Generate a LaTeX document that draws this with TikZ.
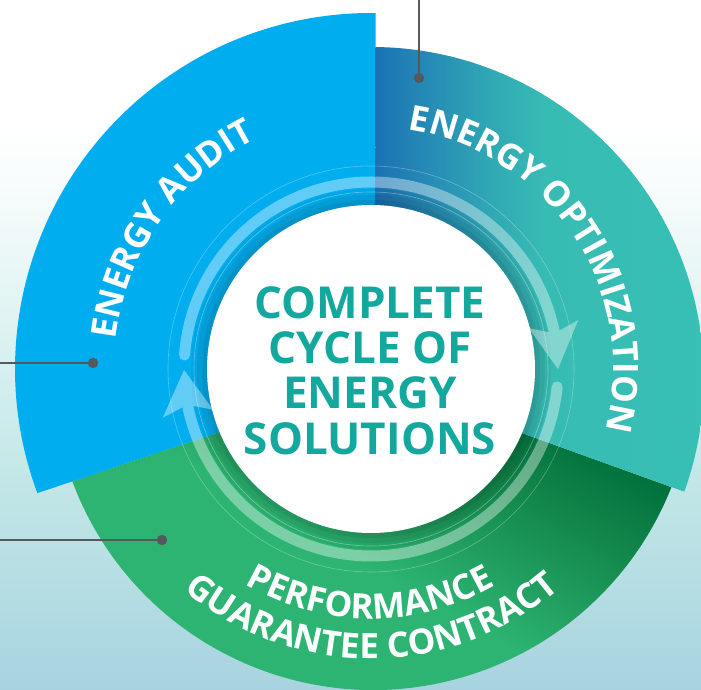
\documentclass[tikz,border=0pt]{standalone}
\usepackage{fontspec}
\setmainfont{Open Sans}
\usetikzlibrary{calc,decorations.text}
\definecolor{cblue}{HTML}{00AEEF}
\definecolor{tealA}{HTML}{1B72B2}
\definecolor{tealB}{HTML}{268CB6}
\definecolor{tealM}{HTML}{30A8B4}
\definecolor{tealC}{HTML}{37BCB4}
\definecolor{tealD}{HTML}{38C0B5}
\definecolor{gdark}{HTML}{006F3C}
\definecolor{gmid}{HTML}{12864B}
\definecolor{glight}{HTML}{2DB472}
\definecolor{ctext}{HTML}{13A89E}
\definecolor{leadc}{HTML}{55595E}
\definecolor{bgB}{HTML}{A7D3E0}
\definecolor{bgM}{HTML}{C6E9E8}
\definecolor{bgT}{HTML}{F4FBFB}
\pgfdeclareverticalshading{bgsh}{100bp}{color(0bp)=(bgB); color(25bp)=(bgB); color(42bp)=(bgM); color(60bp)=(bgT); color(66bp)=(white); color(100bp)=(white)}
\pgfdeclarehorizontalshading{tealsh}{100bp}{color(0bp)=(tealA); color(25bp)=(tealA); color(33bp)=(tealB); color(42bp)=(tealM); color(50bp)=(tealC); color(75bp)=(tealD); color(100bp)=(tealD)}
\pgfdeclareverticalshading{greensh}{100bp}{color(0bp)=(glight); color(48bp)=(glight); color(57bp)=(gmid); color(62bp)=(gdark); color(100bp)=(gdark)}
\newcommand{\labelfont}{\fontsize{35}{35}\selectfont\bfseries}
\tikzset{
  leader/.style={draw=leadc, line width=2.6},
  leaddot/.style={fill=leadc},
  ctr/.style={text=ctext, font=\fontsize{44}{44}\selectfont\bfseries, anchor=base, inner sep=0pt},
  ringband/.style={white, line width=11, line cap=round},
}
\begin{document}
\begin{tikzpicture}[x=1pt,y=1pt]
\useasboundingbox (0,0) rectangle (701,690);
\shade[shading=bgsh] (0,0) rectangle (701,690);
\coordinate (P) at (375,310);
\coordinate (Cb) at (371,321);
\coordinate (Ct) at (372,311);
\coordinate (Cg) at (373,321);
\coordinate (C) at (371,321);
% green segment
\begin{scope}
\clip (P) -- ($(Cg)+(200.47:321)$) arc[start angle=200.47, end angle=338.4, radius=321] -- cycle;
\shade[shading=greensh, shading angle=-30] (20,-270) rectangle (820,530);
\end{scope}
% blue segment
\fill[cblue] (P) -- ($(Cb)+(89.24:356)$) arc[start angle=89.24, end angle=200.4, radius=356] -- cycle;
% teal segment
\shade[shading=tealsh] (P) -- ($(Ct)+(89.36:332)$) arc[start angle=89.36, end angle=-19.84, radius=332] -- cycle;
% shadow around centre
\fill[black,opacity=0.05] (C) circle (180);
\fill[black,opacity=0.05] (C) circle (174);
\fill[black,opacity=0.06] (C) circle (169);
\draw[white,opacity=0.35,line width=0.6] (C) circle (177);
\draw[white,opacity=0.3,line width=0.6] (C) circle (203);
% cycle arrows
\begin{scope}[transparency group, opacity=0.38]
\draw[ringband] ($(C)+(175.7:187)$) arc[start angle=175.7, end angle=11.5, radius=187];
\fill[white] ($(C)+(0:187)$) -- ($(C)+(14.5:163)$) -- ($(C)+(11:187)$) -- ($(C)+(13.3:213)$) -- cycle;
\draw[ringband] ($(C)+(-5.5:187)$) arc[start angle=-5.5, end angle=-168.5, radius=187];
\fill[white] ($(C)+(180.3:187)$) -- ($(C)+(193.2:214)$) -- ($(C)+(191:187)$) -- ($(C)+(194.5:163)$) -- cycle;
\end{scope}
% centre
\fill[white] (C) circle (164);
\node[ctr] (t1) at (370,371) {COMPLETE};
\node[ctr] (t2) at (370,326) {CYCLE OF};
\node[ctr] (t3) at (370,281) {ENERGY};
\node[ctr] (t4) at (370,235) {SOLUTIONS};
% curved labels
\path[decorate, decoration={text along path, text={|\labelfont|ENERGY AUDIT}, text align=center, text color=white}]
  ($(C)+(200:257)$) arc[start angle=200, end angle=90, radius=257];
\path[decorate, decoration={text along path, text={|\labelfont|ENERGY OPTIMIZATION}, text align=center, text color=white}]
  ($(C)+(95:242.5)$) arc[start angle=95, end angle=-28.3, radius=242.5];
\path[decorate, decoration={text along path, text={|\labelfont|PERFORMANCE}, text align=center, text color=white}]
  ($(C)+(200:249.5)$) arc[start angle=200, end angle=339.6, radius=249.5];
\path[decorate, decoration={text along path, text={|\labelfont|GUARANTEE CONTRACT}, text align=center, text color=white}]
  ($(C)+(190:289.5)$) arc[start angle=190, end angle=350.5, radius=289.5];
% leader lines
\coordinate (a1) at (419,695); \coordinate (d1) at (419,612);
\coordinate (a2) at (-5,327);  \coordinate (d2) at (93,327);
\coordinate (a3) at (-5,150);  \coordinate (d3) at (162,150);
\draw[leader] (a1) -- (d1); \fill[leaddot] (d1) circle (5.2);
\draw[leader] (a2) -- (d2); \fill[leaddot] (d2) circle (5.2);
\draw[leader] (a3) -- (d3); \fill[leaddot] (d3) circle (5.2);
\end{tikzpicture}
\end{document}
